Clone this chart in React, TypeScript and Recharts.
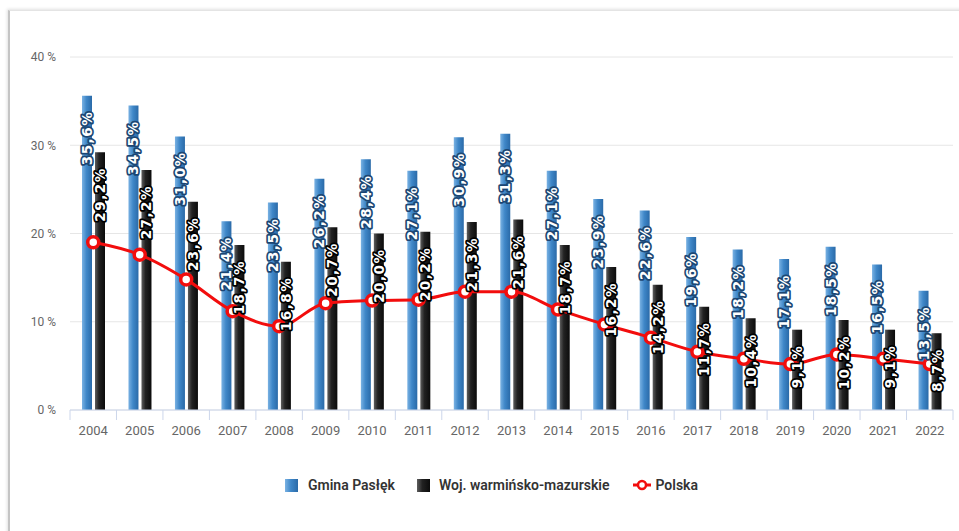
import React from 'react';
import {
  ComposedChart,
  Bar,
  Line,
  XAxis,
  YAxis,
  CartesianGrid,
  LabelList,
} from 'recharts';

const years = ['2004', '2005', '2006', '2007', '2008', '2009', '2010', '2011', '2012', '2013', '2014', '2015', '2016', '2017', '2018', '2019', '2020', '2021', '2022'];
const gminaPaslek = [35.6, 34.5, 31.0, 21.4, 23.5, 26.2, 28.4, 27.1, 30.9, 31.3, 27.1, 23.9, 22.6, 19.6, 18.2, 17.1, 18.5, 16.5, 13.5];
const wojewodztwo = [29.2, 27.2, 23.6, 18.7, 16.8, 20.7, 20.0, 20.2, 21.3, 21.6, 18.7, 16.2, 14.2, 11.7, 10.4, 9.1, 10.2, 9.1, 8.7];
const polska = [19.0, 17.6, 14.8, 11.2, 9.5, 12.1, 12.4, 12.5, 13.4, 13.4, 11.4, 9.7, 8.2, 6.6, 5.8, 5.2, 6.3, 5.8, 5.2];
const yTicks = [0, 10, 20, 30, 40];

const chartData = years.map((year, i) => ({
  year,
  gmina: gminaPaslek[i],
  woj: wojewodztwo[i],
  polska: polska[i],
}));

const fmt = (v: number) => v.toFixed(1).replace('.', ',') + '%';

const makeBarLabel = (halo: string) => (props: any) => {
  const { x, y, width, value } = props;
  if (value == null) return null;
  const cx = Number(x) + Number(width) / 2;
  const ty = Number(y) + 15;
  return (
    <text
      x={cx}
      y={ty}
      transform={`rotate(-90, ${cx}, ${ty})`}
      textAnchor="end"
      dominantBaseline="central"
      fill="#fff"
      stroke={halo}
      strokeWidth={3.5}
      paintOrder="stroke"
      strokeLinejoin="round"
      fontFamily="'DejaVu Sans', sans-serif"
      fontWeight="bold"
      fontSize={13.5}
      letterSpacing={1.5}
    >
      {fmt(Number(value))}
    </text>
  );
};

const XTick = (props: any) => {
  const { x, y, payload, index } = props;
  const half = payload && payload.offset ? payload.offset : 23.25;
  const top = y - 8;
  return (
    <g>
      <line x1={x - half} y1={top} x2={x - half} y2={top + 10} stroke="#ccd6eb" />
      {index === years.length - 1 && (
        <line x1={x + half} y1={top} x2={x + half} y2={top + 10} stroke="#ccd6eb" />
      )}
      <text x={x} y={y + 17} textAnchor="middle" fill="#666" fontSize={13} fontFamily="Roboto, sans-serif">
        {payload.value}
      </text>
    </g>
  );
};

const legendText: React.CSSProperties = {
  fontFamily: 'Roboto, sans-serif',
  fontSize: 14,
  fontWeight: 600,
  color: '#333',
};

export default function App() {
  return (
    <div
      style={{
        position: 'absolute',
        left: 0,
        top: 0,
        width: 959,
        height: 531,
        overflow: 'hidden',
        background: '#fff',
      }}
    >
      <div
        style={{
          position: 'absolute',
          left: 8,
          top: 10,
          width: 960,
          height: 540,
          borderTop: '1px solid #e4e4e4',
          borderLeft: '2px solid #c4c4c4',
          boxShadow: '-1px -1px 3px rgba(0,0,0,0.12)',
        }}
      />
      <div style={{ position: 'absolute', left: 0, top: 0 }}>
        <ComposedChart
          width={959}
          height={531}
          data={chartData}
          margin={{ top: 57, right: 6, bottom: 91, left: 8 }}
          barSize={10}
          barGap={3}
        >
          <defs>
            <linearGradient id="gradBlue" x1="0" y1="0" x2="1" y2="0">
              <stop offset="0%" stopColor="#7ab2e3" />
              <stop offset="45%" stopColor="#3f87c8" />
              <stop offset="100%" stopColor="#2a6aa8" />
            </linearGradient>
            <linearGradient id="gradBlack" x1="0" y1="0" x2="1" y2="0">
              <stop offset="0%" stopColor="#5e5e5e" />
              <stop offset="40%" stopColor="#222" />
              <stop offset="100%" stopColor="#0b0b0b" />
            </linearGradient>
          </defs>
          <CartesianGrid vertical={false} stroke="#e6e6e6" />
          <XAxis
            dataKey="year"
            height={30}
            axisLine={{ stroke: '#ccd6eb' }}
            tickLine={false}
            tick={<XTick />}
            interval={0}
          />
          <YAxis
            width={62}
            domain={[0, 40]}
            ticks={yTicks}
            axisLine={false}
            tickLine={false}
            tickSize={0}
            tickMargin={14}
            tickFormatter={(v: number) => `${v} %`}
            tick={{ fill: '#666', fontSize: 12, fontFamily: 'Roboto, sans-serif' }}
          />
          <Bar dataKey="gmina" name="Gmina Pasłęk" fill="url(#gradBlue)" isAnimationActive={false}>
            <LabelList dataKey="gmina" content={makeBarLabel('#1c4673')} />
          </Bar>
          <Bar dataKey="woj" name="Woj. warmińsko-mazurskie" fill="url(#gradBlack)" isAnimationActive={false}>
            <LabelList dataKey="woj" content={makeBarLabel('#000')} />
          </Bar>
          <Line
            type="monotone"
            dataKey="polska"
            name="Polska"
            stroke="#f20d0d"
            strokeWidth={3}
            dot={{ r: 5.5, fill: '#fff', stroke: '#f20d0d', strokeWidth: 3.5 }}
            isAnimationActive={false}
          />
        </ComposedChart>
      </div>
      <div
        style={{
          position: 'absolute',
          left: 285,
          top: 475,
          display: 'flex',
          alignItems: 'center',
          height: 20,
        }}
      >
        <span
          style={{
            width: 13,
            height: 13,
            background: 'linear-gradient(to right, #7ab2e3, #3f87c8 45%, #2a6aa8)',
            display: 'inline-block',
          }}
        />
        <span style={{ ...legendText, marginLeft: 10 }}>Gmina Pasłęk</span>
        <span
          style={{
            width: 13,
            height: 13,
            marginLeft: 22,
            background: 'linear-gradient(to right, #5e5e5e, #222 40%, #0b0b0b)',
            display: 'inline-block',
          }}
        />
        <span style={{ ...legendText, marginLeft: 9 }}>Woj. warmińsko-mazurskie</span>
        <svg width={18} height={14} style={{ marginLeft: 24 }}>
          <line x1={0} y1={7} x2={18} y2={7} stroke="#f20d0d" strokeWidth={3} />
          <circle cx={9} cy={7} r={4} fill="#fff" stroke="#f20d0d" strokeWidth={2.5} />
        </svg>
        <span style={{ ...legendText, marginLeft: 4 }}>Polska</span>
      </div>
    </div>
  );
}
